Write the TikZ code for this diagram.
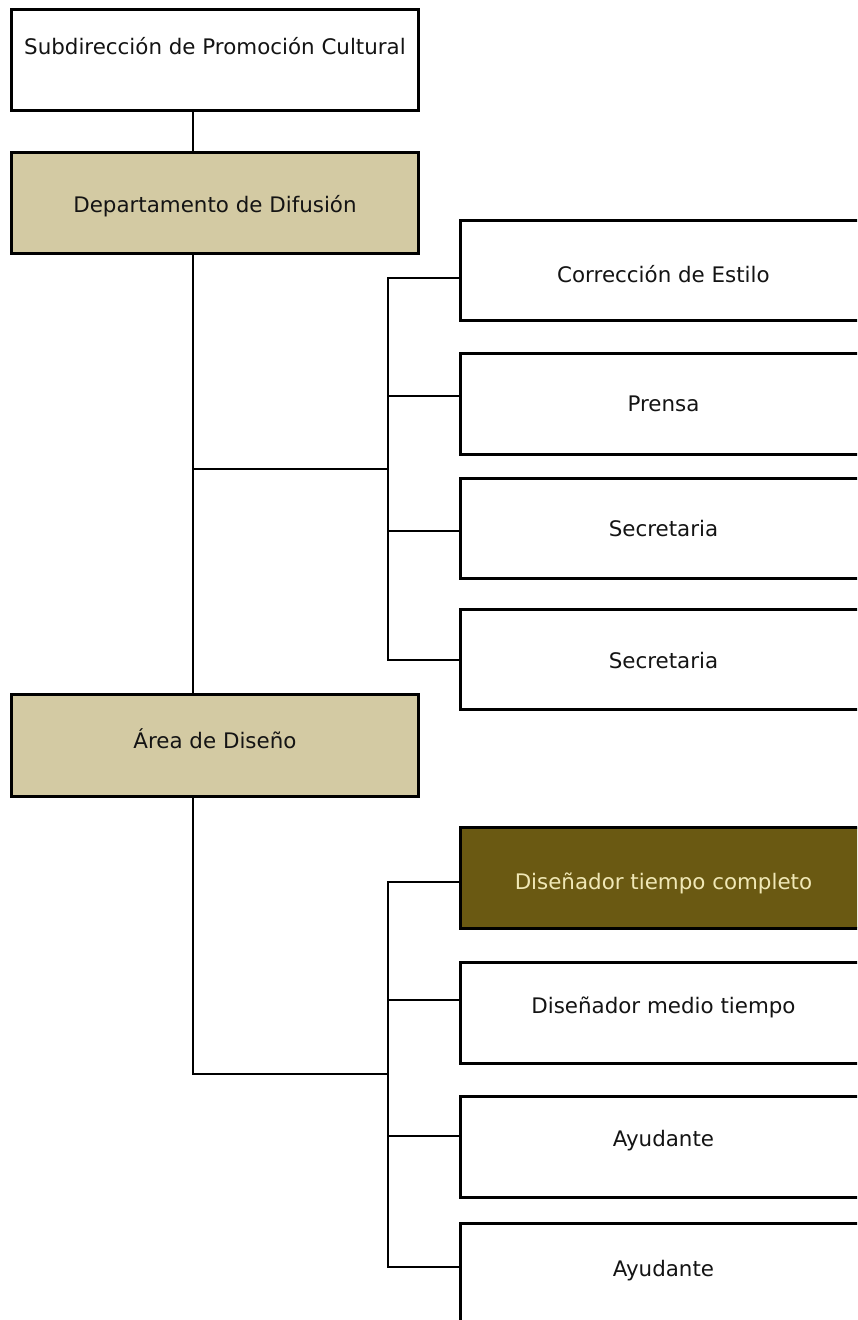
\documentclass[tikz,border=0pt]{standalone}
\usepackage{fontspec}
\setmainfont{DejaVu Sans}
\definecolor{tanfill}{RGB}{211,202,163}
\definecolor{olivefill}{RGB}{106,89,18}
\definecolor{paletext}{RGB}{240,232,182}
\begin{document}
\begin{tikzpicture}[x=1pt,y=-1pt,
  orgbox/.style={draw=black, line width=2.9pt, fill=white, inner sep=0pt,
    minimum width=407pt, minimum height=101pt, anchor=north west,
    font=\fontsize{21.4}{25}\selectfont, text=black!92},
  tanbox/.style={fill=tanfill},
  darkbox/.style={fill=olivefill, text=paletext},
  link/.style={line width=2.9pt, line cap=rect}]
\useasboundingbox (0,0) rectangle (857,1320);
\clip (0,0) rectangle (857,1320);

% left column
\node[orgbox, text height=16pt, text depth=26.4pt] (sub) at (10,8) {Subdirección de Promoción Cultural};
\node[orgbox, tanbox, text height=18.4pt, text depth=0pt] (dept) at (10,151) {Departamento de Difusión};
\node[orgbox, tanbox, minimum height=102pt, text height=16pt, text depth=10.6pt] (area) at (10,693) {Área de Diseño};

% units under the department
\node[orgbox, minimum width=406pt, minimum height=100pt, text height=24pt, text depth=0pt] (corr) at (459,219) {Corrección de Estilo};
\node[orgbox, minimum width=406pt, text height=15pt, text depth=0pt] (prensa) at (459,352) {Prensa};
\node[orgbox, minimum width=406pt, minimum height=100pt, text height=16pt, text depth=0pt] (secA) at (459,477) {Secretaria};
\node[orgbox, minimum width=406pt, minimum height=100pt, text height=18.6pt, text depth=0pt] (secB) at (459,608) {Secretaria};

% units under the design area
\node[orgbox, darkbox, minimum width=406pt, text height=23.6pt, text depth=0pt] (dtc) at (459,826) {Diseñador tiempo completo};
\node[orgbox, minimum width=406pt, text height=16pt, text depth=15pt] (dmt) at (459,961) {Diseñador medio tiempo};
\node[orgbox, minimum width=406pt, text height=16pt, text depth=17pt] (ayuA) at (459,1095) {Ayudante};
\node[orgbox, minimum width=406pt, minimum height=99pt, text height=16pt, text depth=9pt] (ayuB) at (459,1222) {Ayudante};

% connector positions
\coordinate (trunk) at (193,0);
\coordinate (hubA) at (388,469);
\coordinate (hubB) at (388,1074);
\coordinate (a1) at (388,278);
\coordinate (a2) at (388,396);
\coordinate (a3) at (388,531);
\coordinate (a4) at (388,660);
\coordinate (b1) at (388,882);
\coordinate (b2) at (388,1000);
\coordinate (b3) at (388,1136);
\coordinate (b4) at (388,1267);

% main trunk
\draw[link] (sub.south -| trunk) -- (dept.north -| trunk);
\draw[link] (dept.south -| trunk) -- (area.north -| trunk);
\draw[link] (trunk |- hubA) -- (hubA);
\draw[link] (area.south -| trunk) |- (hubB);

% department bracket
\draw[link] (a1) -- (a4);
\draw[link] (a1) -- (a1 -| corr.west);
\draw[link] (a2) -- (a2 -| prensa.west);
\draw[link] (a3) -- (a3 -| secA.west);
\draw[link] (a4) -- (a4 -| secB.west);

% design bracket
\draw[link] (b1) -- (b4);
\draw[link] (b1) -- (b1 -| dtc.west);
\draw[link] (b2) -- (b2 -| dmt.west);
\draw[link] (b3) -- (b3 -| ayuA.west);
\draw[link] (b4) -- (b4 -| ayuB.west);
\end{tikzpicture}
\end{document}
